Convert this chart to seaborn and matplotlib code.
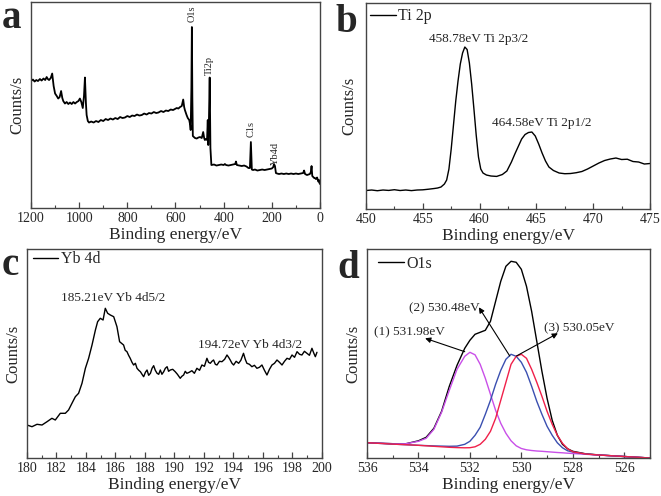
import seaborn as sns
import matplotlib.pyplot as plt
import matplotlib.ticker as ticker

# ---- (a) survey spectrum: binding energy (eV) vs counts (arbitrary units) ----
survey_ev = [1200, 1192, 1185, 1178, 1171, 1163, 1156, 1148, 1141, 1135,
             1130, 1125, 1118, 1112, 1106, 1100, 1093, 1087, 1081, 1075,
             1070, 1066, 1059, 1052, 1045, 1038, 1031, 1024, 1017, 1010,
             1003, 997, 991, 985, 980, 976, 972, 969, 964, 959,
             950, 940, 930, 920, 910, 900, 890, 880, 870, 860,
             850, 840, 830, 820, 810, 800, 790, 780, 770, 760,
             750, 740, 730, 720, 710, 700, 690, 680, 671, 660,
             650, 640, 630, 620, 610, 602, 595, 588, 581, 574,
             568, 564, 561, 557, 554, 549, 543, 539, 537, 534,
             532, 530, 528, 519, 512, 505, 498, 491, 485, 481,
             478, 473, 469, 466, 464, 461, 458, 455, 451, 440,
             430, 420, 410, 400, 395, 390, 380, 370, 360, 352,
             349, 345, 335, 325, 315, 305, 297, 291, 287, 283,
             278, 270, 260, 250, 240, 230, 220, 210, 200, 194,
             191, 187, 183, 178, 170, 160, 150, 140, 130, 120,
             110, 100, 90, 80, 70, 66, 62, 58, 54, 48,
             42, 38, 35, 32, 28, 24, 21, 17, 12, 9,
             7, 4, 2, 0]
survey_counts = [127, 128.5, 126.5, 128, 127, 129, 127.5, 129.5, 128, 131,
                 129, 128, 130, 134.5, 122, 114.5, 112, 109.5, 111, 117,
                 110, 107, 104.5, 106, 104, 105.5, 104, 106, 104.5, 106,
                 107, 109.5, 106, 100, 112, 130.5, 105, 93, 87, 85.5,
                 86.5, 85.5, 87, 86, 88, 87, 89, 88, 89.5, 88.5,
                 90, 89, 91, 90, 90.5, 92, 91, 92.5, 92, 93.5,
                 92.5, 93, 94.5, 93.5, 95, 94.5, 96, 95, 95.5, 97,
                 96, 97.5, 97, 98.5, 98, 99, 100, 99.5, 101, 102,
                 108.5, 101, 98, 95, 93, 90, 88, 83, 78, 120,
                 181, 110, 72, 70, 69.5, 70.5, 71, 70, 76, 70,
                 68, 69, 68, 88, 63, 90, 130.5, 60, 43, 43.5,
                 42.5, 43, 43.5, 43, 44, 43, 42.5, 43, 43.5, 44,
                 46.5, 43, 42.5, 42, 42.5, 41.5, 40, 40, 66, 38.5,
                 38, 38.5, 37.5, 38, 38.5, 38, 38.5, 39, 39.5, 41,
                 44, 42, 35, 34.5, 34, 34.5, 34, 34.5, 34, 34.5,
                 34, 34.5, 34, 34.5, 35, 37.5, 34, 33.5, 33, 33.5,
                 34, 36, 42, 32, 31, 30, 30, 29, 30.5, 28,
                 26.5, 28, 25, 24]
survey_peaks = ['O1s', 'Ti2p', 'C1s', 'Yb4d']
survey_peak_ev = [531, 460, 287, 187]
survey_peak_h = [186, 133, 71, 43]

# ---- (b) Ti 2p ----
ti_ev = [450.0, 450.5, 451.0, 451.5, 452.0, 452.5, 453.0, 453.5, 454.0, 454.5,
         455.0, 455.5, 456.0, 456.3, 456.6, 456.9, 457.1, 457.3, 457.5, 457.7,
         457.9, 458.1, 458.3, 458.5, 458.7, 458.9, 459.1, 459.3, 459.5, 459.7,
         459.9, 460.1, 460.3, 460.6, 461.0, 461.5, 462.0, 462.4, 462.8, 463.1,
         463.4, 463.7, 464.0, 464.3, 464.6, 464.9, 465.2, 465.5, 465.8, 466.1,
         466.5, 467.0, 467.5, 468.0, 468.5, 469.0, 469.5, 470.0, 470.5, 471.0,
         471.5, 472.0, 472.5, 473.0, 473.5, 474.0, 474.5, 475.0]
ti_counts = [18.5, 19, 18.3, 19, 18.6, 19.3, 18.5, 19, 18.4, 19,
             19.2, 19.8, 20.5, 21, 22, 25, 29, 40, 60, 84,
             108, 128, 145, 156, 162, 159.5, 146, 125, 100, 74,
             52, 40, 36, 34, 33, 32.6, 34.5, 38, 47, 55,
             62.5, 70, 74.5, 76.5, 77, 73, 65, 56, 48, 42,
             38.5, 36, 35.3, 35.5, 36.3, 37.5, 40, 43, 46, 48.5,
             50, 51, 49.5, 49.8, 47.5, 47, 45, 45.5]
ti_labels = ['458.78eV Ti 2p3/2', '464.58eV Ti 2p1/2']
ti_label_ev = [459.95, 465.5]
ti_label_h = [167, 83]

# ---- (c) Yb 4d ----
yb_ev = [180.0, 180.34, 180.68, 181.02, 181.36, 181.69, 181.92, 182.26, 182.6, 182.82,
         183.05, 183.28, 183.5, 183.73, 183.96, 184.18, 184.41, 184.64, 184.79, 184.97,
         185.16, 185.31, 185.47, 185.65, 185.88, 186.1, 186.28, 186.55, 186.66, 186.78,
         186.89, 187.0, 187.12, 187.23, 187.35, 187.46, 187.58, 187.69, 187.8, 187.91,
         188.03, 188.14, 188.25, 188.37, 188.48, 188.59, 188.7, 188.82, 188.93, 189.04,
         189.15, 189.27, 189.38, 189.5, 189.6, 189.72, 189.88, 190.05, 190.2, 190.39,
         190.5, 190.62, 190.73, 190.84, 191.0, 191.18, 191.35, 191.52, 191.7, 191.86,
         192.03, 192.2, 192.31, 192.43, 192.54, 192.65, 192.77, 192.88, 193.05, 193.22,
         193.4, 193.56, 193.67, 193.78, 193.9, 194.01, 194.18, 194.35, 194.5, 194.68,
         194.8, 194.91, 195.08, 195.25, 195.42, 195.59, 195.76, 195.93, 196.1, 196.27,
         196.44, 196.61, 196.78, 196.95, 197.12, 197.29, 197.46, 197.63, 197.8, 197.97,
         198.14, 198.31, 198.48, 198.64, 198.81, 198.98, 199.15, 199.32, 199.45, 199.55,
         199.66]
yb_counts = [33.3, 31.6, 34, 33.3, 36.6, 40, 38.3, 45, 45, 48.3,
             55, 61.6, 65, 75, 90, 100, 113.3, 128.3, 136.6, 140,
             138.3, 150, 145, 143.3, 141.6, 131.6, 116.6, 113.3, 108, 106.6,
             103, 100, 96, 93.3, 95, 90, 88, 86.6, 84, 81.6,
             86, 88.3, 83, 85, 90, 92.6, 88, 85, 84, 88.3,
             84, 86.6, 90, 91.6, 87, 88.3, 89, 86.6, 84, 80,
             82, 83.3, 87, 85, 86, 87.6, 85, 90, 88, 93.3,
             92, 100, 96, 95, 97, 98.3, 94, 93.3, 97, 96.6,
             99, 103.3, 101, 98.3, 95, 93.3, 97, 95, 98, 105,
             99, 95, 94, 91.6, 93, 90, 91, 93.3, 88, 83.3,
             89, 93.3, 95, 98.3, 96, 93.3, 97, 100, 99, 103.3,
             101, 106.6, 104, 103.3, 107, 105, 103, 110, 105, 101.6,
             106]
yb_labels = ['185.21eV Yb 4d5/2', '194.72eV Yb 4d3/2']
yb_label_ev = [185.82, 195.14]
yb_label_h = [157, 110]

# ---- (d) O1s with three fitted components ----
o_ev = [536, 535, 534.5, 534, 533.7, 533.4, 533.1, 532.8, 532.5, 532.2,
        532.0, 531.8, 531.6, 531.4, 531.2, 531.0, 530.8, 530.6, 530.4, 530.2,
        530.0, 529.8, 529.6, 529.4, 529.2, 529.0, 528.8, 528.6, 528.4, 528.2,
        528.0, 527.5, 527, 526, 525]
o_total = [15.6, 14.6, 14.5, 17.5, 21, 30, 47, 72, 93, 110,
           118, 124, 126, 128, 137, 157, 177, 192, 197, 196,
           189, 172, 147, 117, 87, 60, 38, 23, 14, 9.5,
           7, 4.5, 3.4, 1.8, 0.3]
o_peak1 = [15.6, 14.6, 14.5, 17, 20, 29, 46, 68, 89, 102,
           106, 103.5, 94, 80, 64, 48, 35, 25, 17.5, 12.5,
           9.8, 8.5, 7.8, 7.3, 7, 6.6, 6.2, 5.8, 5.5, 5.1,
           4.8, 4.0, 3.3, 1.8, 0.3]
o_peak2 = [15.6, 14.2, 13.6, 13, 12.7, 12.4, 12.2, 12.0, 12.2, 14,
           17, 23, 31, 44, 58, 74, 88, 99, 104, 102,
           96, 86, 72, 57, 44, 32, 23, 15.5, 10.5, 7.5,
           6.3, 4.3, 3.3, 1.8, 0.3]
o_peak3 = [15.6, 14.2, 13.6, 13, 12.5, 12, 11.5, 11, 10.7, 10.5,
           10.6, 11.5, 14, 19, 27, 40, 58, 76, 94, 102,
           104, 100, 89, 76, 62, 47, 34, 23, 15, 9.5,
           6.5, 4.3, 3.3, 1.8, 0.3]
o_labels = ['(1) 531.98eV', '(2) 530.48eV', '(3) 530.05eV']
o_label_ev = [534.36, 533.0, 527.74]
o_label_h = [123.3, 146.6, 126.6]
o_arrow_from = [(532.2, 106.6), (530.45, 102.3), (530.19, 102.3)]
o_arrow_to = [(533.74, 120), (531.65, 151), (528.58, 125)]

sns.set_theme(style="ticks")
plt.rcParams['font.family'] = ['Liberation Serif', 'DejaVu Serif']
plt.rcParams['axes.edgecolor'] = '#444444'
plt.rcParams['axes.linewidth'] = 1.0

fig = plt.figure(figsize=(6.61, 4.96), dpi=100)
ax_a = fig.add_axes([0.0469, 0.5806, 0.4372, 0.4153])
ax_b = fig.add_axes([0.5537, 0.5786, 0.4297, 0.4153])
ax_c = fig.add_axes([0.0408, 0.0760, 0.4463, 0.4214])
ax_d = fig.add_axes([0.5552, 0.0760, 0.4281, 0.4214])


def style_axis(ax, xlim, ylim, major, minor, ypad):
    ax.set_xlim(*xlim)
    ax.set_ylim(*ylim)
    ax.xaxis.set_major_locator(ticker.MultipleLocator(major))
    ax.xaxis.set_minor_locator(ticker.MultipleLocator(minor))
    ax.set_yticks([])
    ax.tick_params(axis='x', which='both', direction='in', top=False,
                   labelsize=10, pad=3, color='#444444')
    ax.tick_params(axis='x', which='major', length=4, width=0.9)
    ax.tick_params(axis='x', which='minor', length=2.5, width=0.8)
    ax.set_xlabel('Binding energy/eV', fontsize=12.5, labelpad=1)
    ax.set_ylabel('Counts/s', fontsize=12, labelpad=ypad)


def add_legend(ax, anchor):
    ax.legend(loc='upper left', bbox_to_anchor=anchor, frameon=False,
              fontsize=11.5, handlelength=1.6, handletextpad=0.15,
              borderpad=0, borderaxespad=0)


# (a)
sns.lineplot(x=survey_ev, y=survey_counts, ax=ax_a, color='black', lw=1.3,
             sort=False, estimator=None)
for name, ev, h in zip(survey_peaks, survey_peak_ev, survey_peak_h):
    ax_a.text(ev, h, name, rotation=90, ha='center', va='bottom', fontsize=7.5)
style_axis(ax_a, (1200, 0), (0, 206), 200, 100, 4)

# (b)
sns.lineplot(x=ti_ev, y=ti_counts, ax=ax_b, color='black', lw=1.0,
             sort=False, estimator=None, label='Ti 2p')
for txt, ev, h in zip(ti_labels, ti_label_ev, ti_label_h):
    ax_b.text(ev, h, txt, ha='center', va='baseline', fontsize=9.5)
style_axis(ax_b, (450, 475), (0, 206), 5, 2.5, 6)
add_legend(ax_b, (0.014, 0.975))

# (c)
sns.lineplot(x=yb_ev, y=yb_counts, ax=ax_c, color='black', lw=1.0,
             sort=False, estimator=None, label='Yb 4d')
for txt, ev, h in zip(yb_labels, yb_label_ev, yb_label_h):
    ax_c.text(ev, h, txt, ha='center', va='baseline', fontsize=9.5)
style_axis(ax_c, (180, 200), (0, 209), 2, 1, 4)
add_legend(ax_c, (0.02, 0.99))

# (d)
sns.lineplot(x=o_ev, y=o_total, ax=ax_d, color='black', lw=1.0,
             sort=False, estimator=None, label='O1s')
sns.lineplot(x=o_ev, y=o_peak1, ax=ax_d, color='#c94fe8', lw=1.0,
             sort=False, estimator=None)
sns.lineplot(x=o_ev, y=o_peak2, ax=ax_d, color='#3a4fb0', lw=1.0,
             sort=False, estimator=None)
sns.lineplot(x=o_ev, y=o_peak3, ax=ax_d, color='#f0204a', lw=1.0,
             sort=False, estimator=None)
for txt, ev, h in zip(o_labels, o_label_ev, o_label_h):
    ax_d.text(ev, h, txt, ha='center', va='baseline', fontsize=9.5)
for start, end in zip(o_arrow_from, o_arrow_to):
    ax_d.annotate('', xy=end, xytext=start,
                  arrowprops=dict(arrowstyle='-|>', color='black', lw=0.8,
                                  mutation_scale=8, shrinkA=0, shrinkB=0))
style_axis(ax_d, (536, 525), (0, 209), 2, 1, 4)
add_legend(ax_d, (0.039, 0.97))

# panel letters
for letter, x, y in [('a', 0.003, 0.9435), ('b', 0.507, 0.9355),
                     ('c', 0.002, 0.4456), ('d', 0.51, 0.4395)]:
    fig.text(x, y, letter, fontsize=28, fontweight='bold',
             va='baseline', ha='left')

fig.savefig('out.png', dpi=100)
